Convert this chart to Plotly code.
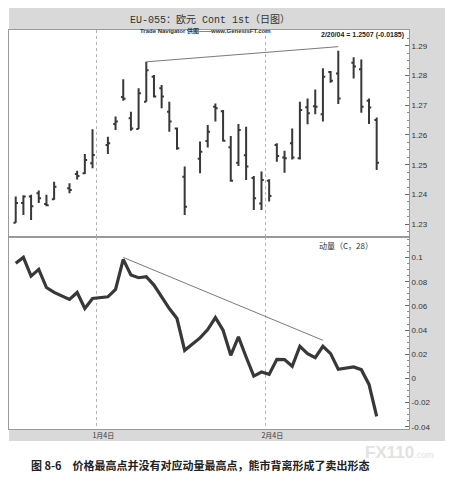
import plotly.graph_objects as go
from plotly.subplots import make_subplots

# ---- data ----
dates = ['2003-12-17', '2003-12-18', '2003-12-19', '2003-12-22', '2003-12-23', '2003-12-24',
         '2003-12-26', '2003-12-29', '2003-12-30', '2003-12-31', '2004-01-02', '2004-01-05',
         '2004-01-06', '2004-01-07', '2004-01-08', '2004-01-09', '2004-01-12', '2004-01-13',
         '2004-01-14', '2004-01-15', '2004-01-16', '2004-01-20', '2004-01-21', '2004-01-22',
         '2004-01-23', '2004-01-26', '2004-01-27', '2004-01-28', '2004-01-29', '2004-01-30',
         '2004-02-02', '2004-02-03', '2004-02-04', '2004-02-05', '2004-02-06', '2004-02-09',
         '2004-02-10', '2004-02-11', '2004-02-12', '2004-02-13', '2004-02-17', '2004-02-18',
         '2004-02-19', '2004-02-20']
opens = [1.2305, 1.2371, 1.2393, 1.2404, 1.2368, 1.2384, 1.2421, 1.2469, 1.2471, 1.2505, 1.2566, 1.2637,
         1.2728, 1.2656, 1.2620, 1.2712, 1.2796, 1.2757, 1.2678, 1.2622, 1.2460, 1.2520, 1.2580, 1.2695,
         1.2680, 1.2559, 1.2507, 1.2532, 1.2455, 1.2370, 1.2446, 1.2566, 1.2524, 1.2572, 1.2522, 1.2693,
         1.2697, 1.2670, 1.2812, 1.2807, 1.2843, 1.2821, 1.2715, 1.2650]
highs = [1.2393, 1.2397, 1.2399, 1.2413, 1.2399, 1.2443, 1.2438, 1.2480, 1.2536, 1.2619, 1.2594, 1.2662,
         1.2787, 1.2678, 1.2757, 1.2846, 1.2802, 1.2768, 1.2712, 1.2625, 1.2494, 1.2578, 1.2634, 1.2706,
         1.2684, 1.2597, 1.2637, 1.2628, 1.2462, 1.2477, 1.2451, 1.2572, 1.2547, 1.2622, 1.2712, 1.2723,
         1.2753, 1.2824, 1.2815, 1.2883, 1.2861, 1.2854, 1.2723, 1.2659]
lows = [1.2305, 1.2331, 1.2314, 1.2371, 1.2360, 1.2382, 1.2404, 1.2450, 1.2469, 1.2488, 1.2536, 1.2617,
        1.2715, 1.2614, 1.2620, 1.2712, 1.2726, 1.2690, 1.2611, 1.2550, 1.2331, 1.2471, 1.2558, 1.2645,
        1.2578, 1.2443, 1.2496, 1.2449, 1.2348, 1.2348, 1.2376, 1.2510, 1.2473, 1.2518, 1.2518, 1.2636,
        1.2670, 1.2645, 1.2776, 1.2704, 1.2790, 1.2675, 1.2637, 1.2482]
closes = [1.2371, 1.2393, 1.2360, 1.2387, 1.2364, 1.2426, 1.2415, 1.2462, 1.2516, 1.2533, 1.2572, 1.2645,
          1.2722, 1.2622, 1.2740, 1.2818, 1.2729, 1.2729, 1.2645, 1.2555, 1.2359, 1.2544, 1.2611, 1.2690,
          1.2581, 1.2446, 1.2617, 1.2494, 1.2387, 1.2449, 1.2395, 1.2529, 1.2522, 1.2524, 1.2684, 1.2673,
          1.2695, 1.2796, 1.2782, 1.2723, 1.2830, 1.2695, 1.2692, 1.2507]
momentum = [0.0952, 0.1001, 0.0846, 0.0902, 0.0752, 0.0711, 0.0653, 0.0711, 0.0578, 0.0661, 0.0675, 0.0736,
            0.0985, 0.0855, 0.0833, 0.0841, 0.0772, 0.0675, 0.0578, 0.0495, 0.0232, 0.0335, 0.0404, 0.0503,
            0.0398, 0.0191, 0.0343, 0.0177, 0.0019, 0.0053, 0.0033, 0.0158, 0.0155, 0.0100, 0.0266, 0.0205,
            0.0172, 0.0266, 0.0205, 0.0075, 0.0094, 0.0072, -0.0050, -0.0315]

# divergence lines
price_trend_dates = ['2004-01-09', '2004-02-13']
price_trend_vals = [1.2846, 1.2897]
mom_trend_dates = ['2004-01-06', '2004-02-11']
mom_trend_vals = [0.1001, 0.0315]

# axis ticks
month_lines = ['2003-12-31 12:00', '2004-01-30 12:00']
month_labels = ['1月4日', '2月4日']
price_ticks = [1.23, 1.24, 1.25, 1.26, 1.27, 1.28, 1.29]
mom_ticks = [0.1, 0.08, 0.06, 0.04, 0.02, 0, -0.02, -0.04]
mom_labels = ['0.1', '0.08', '0.06', '0.04', '0.02', '0', '-0.02', '-0.04']

##########
# Colors #
##########
bar_color = '#383838'
trend_color = '#7a7a7a'
band_color = '#d9d9d9'
frame_color = '#9a9a9a'

fig = make_subplots(rows=2, cols=1, shared_xaxes=True, vertical_spacing=0, row_heights=[207, 192])

fig.add_trace(go.Ohlc(
    x=dates, open=opens, high=highs, low=lows, close=closes,
    increasing=dict(line=dict(color=bar_color, width=2)),
    decreasing=dict(line=dict(color=bar_color, width=2)),
    tickwidth=0.3, showlegend=False, hoverinfo='skip',
), row=1, col=1)
fig.add_trace(go.Scatter(x=price_trend_dates, y=price_trend_vals, mode='lines',
                         line=dict(color=trend_color, width=1), showlegend=False, hoverinfo='skip'),
              row=1, col=1)

fig.add_trace(go.Scatter(x=dates, y=momentum, mode='lines',
                         line=dict(color=bar_color, width=3.2), showlegend=False), row=2, col=1)
fig.add_trace(go.Scatter(x=mom_trend_dates, y=mom_trend_vals, mode='lines',
                         line=dict(color=trend_color, width=1), showlegend=False, hoverinfo='skip'),
              row=2, col=1)

last_label = '2/20/04 = {:.4f} ({:+.4f})'.format(closes[-1], closes[-1] - closes[-2])

# page body has an 8px margin, so the figure is a bit smaller and shifted up/left
fig.update_layout(
    width=445, height=474,
    margin=dict(l=1, r=44, t=22, b=53),
    paper_bgcolor='white', plot_bgcolor='white',
    font=dict(family='Liberation Sans, Arial, sans-serif', color='#333333', size=8),
    showlegend=False,
    shapes=[
        dict(type='rect', xref='paper', yref='paper', x0=0, x1=1.09, y0=1, y1=1.06,
             fillcolor=band_color, line_width=0, layer='below'),
        dict(type='rect', xref='paper', yref='paper', x0=1, x1=1.09, y0=-0.03, y1=1.06,
             fillcolor=band_color, line_width=0, layer='below'),
        dict(type='rect', xref='paper', yref='paper', x0=0, x1=1.09, y0=-0.03, y1=0,
             fillcolor=band_color, line_width=0, layer='below'),
    ],
    annotations=[
        dict(text='EU-055：欧元 Cont 1st（日图）', xref='paper', yref='paper', x=0.5025, y=1.045,
             showarrow=False, font=dict(family='Liberation Mono, Noto Sans CJK SC', size=10, color='#333333')),
        dict(text='<b>Trade Navigator 供图——www.GenesisFT.com</b>', xref='paper', yref='paper',
             x=0.49, y=1.0125, showarrow=False,
             font=dict(family='Liberation Sans Narrow, Liberation Sans, Noto Sans CJK SC', size=6, color='#333333')),
        dict(text='<b>' + last_label + '</b>', xref='paper', yref='paper', x=0.992, y=0.9875,
             xanchor='right', yanchor='middle', showarrow=False,
             font=dict(family='Liberation Sans', size=7, color='#222222')),
        dict(text='动量（C，28）', xref='paper', yref='paper', x=0.915, y=0.461, showarrow=False,
             font=dict(family='Noto Sans CJK SC', size=8, color='#333333')),
        dict(text='<b>图 8-6　价格最高点并没有对应动量最高点，熊市背离形成了卖出形态</b>',
             xref='paper', yref='paper', x=0.05, y=-0.09, xanchor='left', yanchor='middle',
             showarrow=False, font=dict(family='Noto Sans CJK SC', size=11, color='#222222')),
        dict(text="<b>FX110</b><span style='font-size:9px'>.com</span>", xref='paper', yref='paper',
             x=0.885, y=-0.058, xanchor='left', yanchor='middle', showarrow=False,
             font=dict(family='Liberation Sans', size=17, color='#e2e2e2')),
    ],
)

fig.update_xaxes(
    type='date', rangebreaks=[dict(bounds=['sat', 'mon'])],
    range=['2003-12-16 03:00', '2004-02-26 05:00'],
    rangeslider_visible=False,
    tickmode='array', tickvals=month_lines, ticktext=month_labels,
    showgrid=True, gridcolor='#b5b5b5', griddash='dot', gridwidth=1,
    showline=True, mirror=True, linecolor=frame_color, linewidth=1,
    ticks='', zeroline=False,
)
fig.update_xaxes(showticklabels=True, ticklabelshift=7,
                 tickfont=dict(family='Noto Sans CJK SC', size=7, color='#333333'), row=2, col=1)

fig.update_yaxes(side='right', ticks='inside', ticklen=4, tickcolor='#666666',
                 showgrid=False, zeroline=False, showline=True, mirror=True,
                 linecolor=frame_color, linewidth=1,
                 tickfont=dict(family='Liberation Sans', size=8, color='#333333'))
fig.update_yaxes(range=[1.2257, 1.2953], tickvals=price_ticks, tickformat='.2f',
                 minor=dict(ticks='inside', ticklen=2, dtick=0.0025, tickcolor='#888888'), row=1, col=1)
fig.update_yaxes(range=[-0.0419, 0.117], tickvals=mom_ticks, ticktext=mom_labels,
                 minor=dict(ticks='inside', ticklen=2, dtick=0.005, tickcolor='#888888'), row=2, col=1)

fig.write_html('out.html')
